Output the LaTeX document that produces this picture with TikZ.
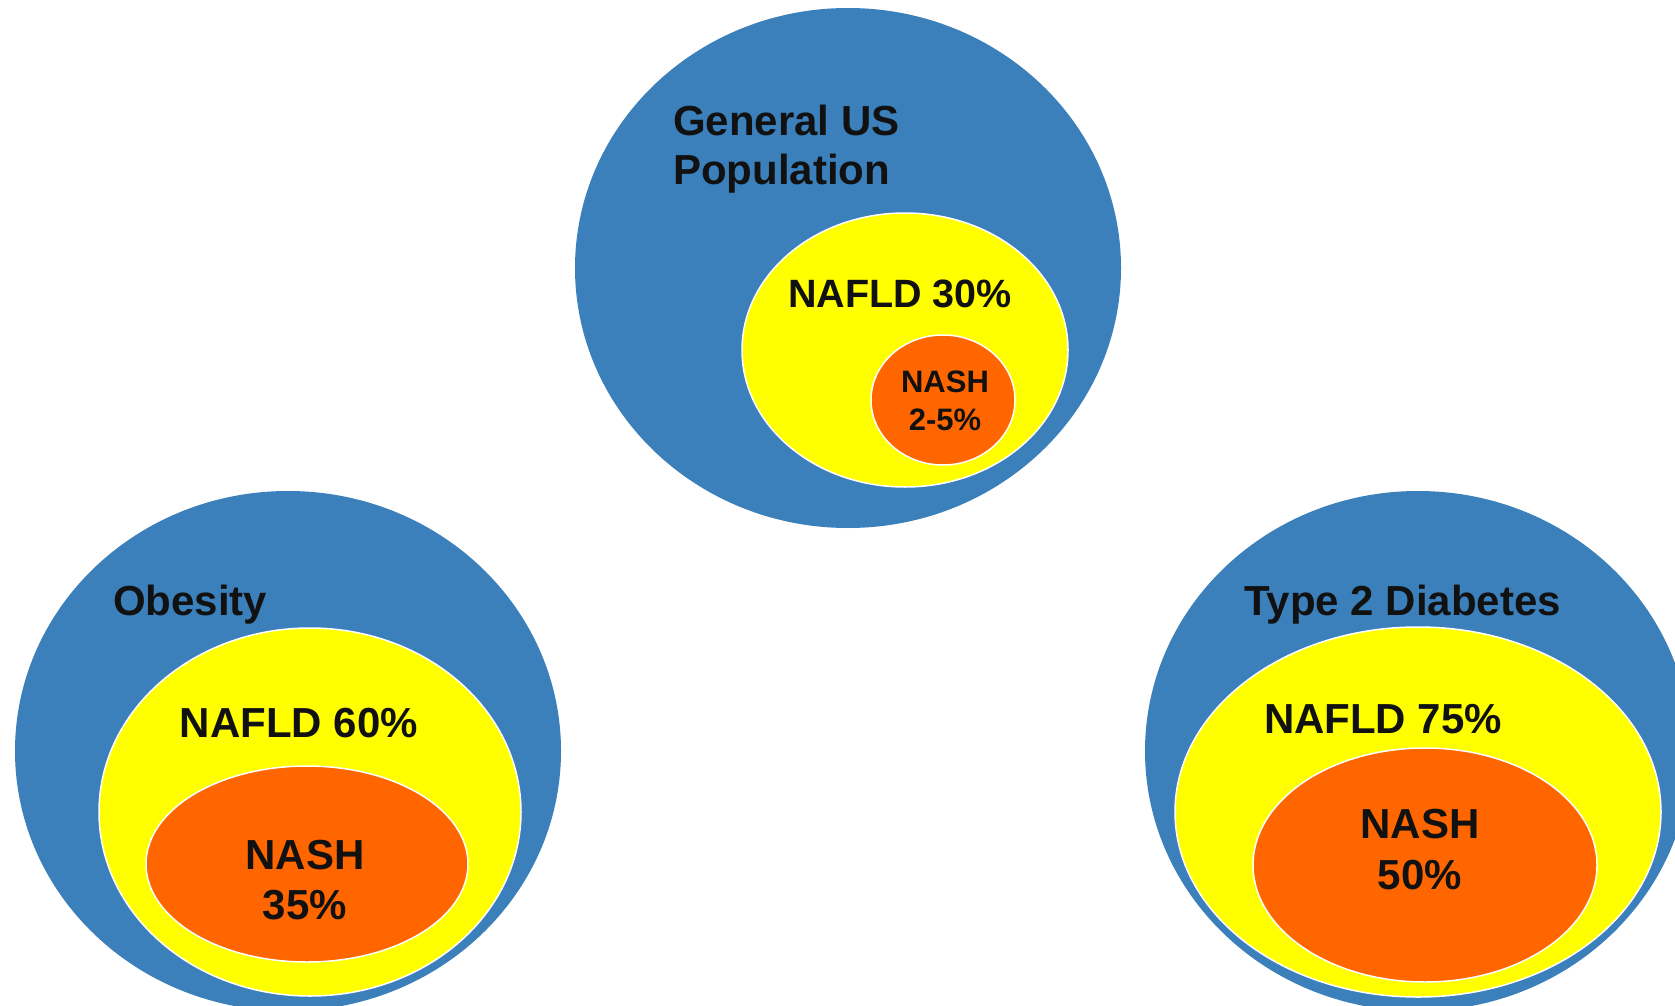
\documentclass[tikz,border=0pt]{standalone}
\usepackage{fontspec}
\setmainfont{Liberation Sans}
\usepackage{tikz}
\usetikzlibrary{shapes}
\definecolor{popblue}{RGB}{59,128,187}
\definecolor{nafldyellow}{RGB}{255,255,0}
\definecolor{nashorange}{RGB}{255,102,0}
\definecolor{inkblack}{RGB}{17,17,17}
\tikzset{blob/.style={shape=ellipse,inner sep=0pt,outer sep=0pt},
  rim/.style={draw=white,line width=1.5pt},
  labl/.style={text=inkblack,font=\bfseries\fontsize{42}{49}\selectfont,inner sep=0pt}}
\newcommand{\blob}[7]{ \node[blob,fill=#2,#7,minimum width=#5pt,minimum height=#6pt] (#1) at ( #3 , #4 ) {};}
\newcommand{\labl}[5]{ \node[labl,#4] (#1) at ( #2 , #3 ) {#5};}

\begin{document}
\begin{tikzpicture}[x=1pt,y=-1pt]
\useasboundingbox (0,0) rectangle (1675,1006);
\clip (0,0) rectangle (1675,1006);
% top group
\blob{genpop}{popblue}{848}{268}{546}{520}{}
\blob{gennafld}{nafldyellow}{905}{350}{326}{274}{rim}
\blob{gennash}{nashorange}{943}{400}{144}{130}{rim}
% left group
\blob{obpop}{popblue}{288}{751}{546}{520}{}
\blob{obnafld}{nafldyellow}{310}{812}{422}{368}{rim}
\blob{obnash}{nashorange}{307}{864}{322}{196}{rim}
% right group
\blob{dmpop}{popblue}{1418}{751}{546}{520}{}
\blob{dmnafld}{nafldyellow}{1418}{812}{486}{370}{rim}
\blob{dmnash}{nashorange}{1425}{865}{344}{234}{rim}
% top labels
\labl{gentitle}{673}{149}{anchor=west,align=left}{General US\\Population}
\labl{gennafldtxt}{900}{294}{font=\bfseries\fontsize{39.5}{46}\selectfont}{NAFLD 30\%}
\labl{gennashtxt}{945}{401}{align=center,font=\bfseries\fontsize{31}{38}\selectfont}{NASH\\2-5\%}
% left labels
\labl{obtitle}{113}{605}{anchor=west}{Obesity}
\labl{obnafldtxt}{299}{723}{}{NAFLD 60\%}
\labl{obnashtxt}{305}{880}{align=center,font=\bfseries\fontsize{42}{50}\selectfont}{NASH\\35\%}
% right labels
\labl{dmtitle}{1244}{605}{anchor=west}{Type 2 Diabetes}
\labl{dmnafldtxt}{1383}{719}{}{NAFLD 75\%}
\labl{dmnashtxt}{1420}{850}{align=center,font=\bfseries\fontsize{42}{51}\selectfont}{NASH\\50\%}
\end{tikzpicture}
\end{document}
